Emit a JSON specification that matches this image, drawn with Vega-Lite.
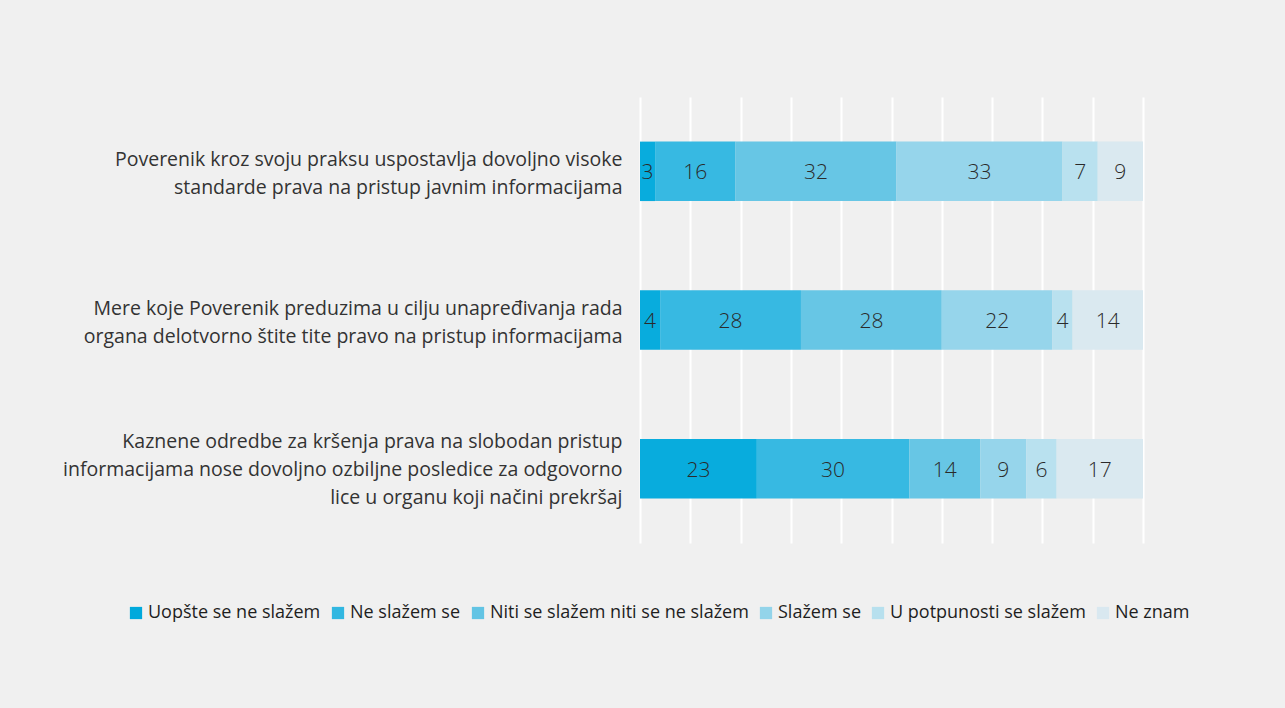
{
  "$schema": "https://vega.github.io/schema/vega-lite/v6.json",
  "width": 503,
  "height": 446,
  "autosize": {"type": "none"},
  "padding": {"left": 640, "top": 97, "right": 142, "bottom": 165},
  "background": "#f0f0f0",
  "config": {
    "view": {"stroke": null},
    "font": "Open Sans"
  },
  "data": {
    "values": [
      {"q": "Poverenik kroz svoju praksu uspostavlja dovoljno visoke|standarde prava na pristup javnim informacijama", "c": "Uopšte se ne slažem", "o": 1, "v": 3},
      {"q": "Poverenik kroz svoju praksu uspostavlja dovoljno visoke|standarde prava na pristup javnim informacijama", "c": "Ne slažem se", "o": 2, "v": 16},
      {"q": "Poverenik kroz svoju praksu uspostavlja dovoljno visoke|standarde prava na pristup javnim informacijama", "c": "Niti se slažem niti se ne slažem", "o": 3, "v": 32},
      {"q": "Poverenik kroz svoju praksu uspostavlja dovoljno visoke|standarde prava na pristup javnim informacijama", "c": "Slažem se", "o": 4, "v": 33},
      {"q": "Poverenik kroz svoju praksu uspostavlja dovoljno visoke|standarde prava na pristup javnim informacijama", "c": "U potpunosti se slažem", "o": 5, "v": 7},
      {"q": "Poverenik kroz svoju praksu uspostavlja dovoljno visoke|standarde prava na pristup javnim informacijama", "c": "Ne znam", "o": 6, "v": 9},
      {"q": "Mere koje Poverenik preduzima u cilju unapređivanja rada|organa delotvorno štite tite pravo na pristup informacijama", "c": "Uopšte se ne slažem", "o": 1, "v": 4},
      {"q": "Mere koje Poverenik preduzima u cilju unapređivanja rada|organa delotvorno štite tite pravo na pristup informacijama", "c": "Ne slažem se", "o": 2, "v": 28},
      {"q": "Mere koje Poverenik preduzima u cilju unapređivanja rada|organa delotvorno štite tite pravo na pristup informacijama", "c": "Niti se slažem niti se ne slažem", "o": 3, "v": 28},
      {"q": "Mere koje Poverenik preduzima u cilju unapređivanja rada|organa delotvorno štite tite pravo na pristup informacijama", "c": "Slažem se", "o": 4, "v": 22},
      {"q": "Mere koje Poverenik preduzima u cilju unapređivanja rada|organa delotvorno štite tite pravo na pristup informacijama", "c": "U potpunosti se slažem", "o": 5, "v": 4},
      {"q": "Mere koje Poverenik preduzima u cilju unapređivanja rada|organa delotvorno štite tite pravo na pristup informacijama", "c": "Ne znam", "o": 6, "v": 14},
      {"q": "Kaznene odredbe za kršenja prava na slobodan pristup|informacijama nose dovoljno ozbiljne posledice za odgovorno|lice u organu koji načini prekršaj", "c": "Uopšte se ne slažem", "o": 1, "v": 23},
      {"q": "Kaznene odredbe za kršenja prava na slobodan pristup|informacijama nose dovoljno ozbiljne posledice za odgovorno|lice u organu koji načini prekršaj", "c": "Ne slažem se", "o": 2, "v": 30},
      {"q": "Kaznene odredbe za kršenja prava na slobodan pristup|informacijama nose dovoljno ozbiljne posledice za odgovorno|lice u organu koji načini prekršaj", "c": "Niti se slažem niti se ne slažem", "o": 3, "v": 14},
      {"q": "Kaznene odredbe za kršenja prava na slobodan pristup|informacijama nose dovoljno ozbiljne posledice za odgovorno|lice u organu koji načini prekršaj", "c": "Slažem se", "o": 4, "v": 9},
      {"q": "Kaznene odredbe za kršenja prava na slobodan pristup|informacijama nose dovoljno ozbiljne posledice za odgovorno|lice u organu koji načini prekršaj", "c": "U potpunosti se slažem", "o": 5, "v": 6},
      {"q": "Kaznene odredbe za kršenja prava na slobodan pristup|informacijama nose dovoljno ozbiljne posledice za odgovorno|lice u organu koji načini prekršaj", "c": "Ne znam", "o": 6, "v": 17}
    ]
  },
  "encoding": {
    "y": {
      "field": "q",
      "type": "nominal",
      "sort": null,
      "scale": {"paddingInner": 0.6, "paddingOuter": 0.3},
      "axis": {
        "title": null,
        "domain": false,
        "ticks": false,
        "labelExpr": "split(datum.label, '|')",
        "labelFontSize": 19.5,
        "labelFontWeight": 400,
        "labelLineHeight": 28,
        "labelColor": "#333333",
        "labelPadding": 18,
        "labelLimit": 800,
        "labelAlign": "right",
        "labelBaseline": "middle",
        "labelOffset": {"condition": {"test": "indexof(datum.value, 'Kaznene') == 0", "value": -27}, "value": -11}
      }
    },
    "x": {
      "field": "v",
      "type": "quantitative",
      "stack": "normalize",
      "scale": {"domain": [0, 1], "nice": false},
      "axis": {
        "title": null,
        "domain": false,
        "ticks": false,
        "labels": false,
        "labelOverlap": false,
        "grid": true,
        "gridColor": "#ffffff",
        "gridWidth": 2,
        "values": [0, 0.1, 0.2, 0.3, 0.4, 0.5, 0.6, 0.7, 0.8, 0.9, 1]
      }
    },
    "order": {"field": "o", "type": "quantitative"}
  },
  "layer": [
    {
      "mark": {"type": "bar", "opacity": 0.97},
      "encoding": {
        "color": {
          "field": "c",
          "type": "nominal",
          "sort": ["Uopšte se ne slažem", "Ne slažem se", "Niti se slažem niti se ne slažem", "Slažem se", "U potpunosti se slažem", "Ne znam"],
          "scale": {
            "domain": ["Uopšte se ne slažem", "Ne slažem se", "Niti se slažem niti se ne slažem", "Slažem se", "U potpunosti se slažem", "Ne znam"],
            "range": ["#00a9dc", "#31b7e1", "#62c4e4", "#93d4ea", "#b7e0ee", "#d9e8f0"]
          },
          "legend": {
            "title": null,
            "orient": "none",
            "legendX": -513,
            "legendY": 507,
            "direction": "horizontal",
            "columns": 6,
            "columnPadding": 8,
            "symbolType": "square",
            "symbolSize": 150,
            "symbolStrokeWidth": 0,
            "symbolOpacity": 1,
            "labelFontSize": 18,
            "labelColor": "#1e1e1e",
            "labelOffset": 3,
            "labelLimit": 500
          }
        }
      }
    },
    {
      "mark": {"type": "text", "fontSize": 21, "fontWeight": 300, "color": "#2a2a2a", "baseline": "middle", "align": "center", "dy": 2},
      "encoding": {
        "x": {"field": "v", "type": "quantitative", "stack": "normalize", "bandPosition": 0.5},
        "text": {"field": "v", "type": "quantitative"}
      }
    }
  ]
}
